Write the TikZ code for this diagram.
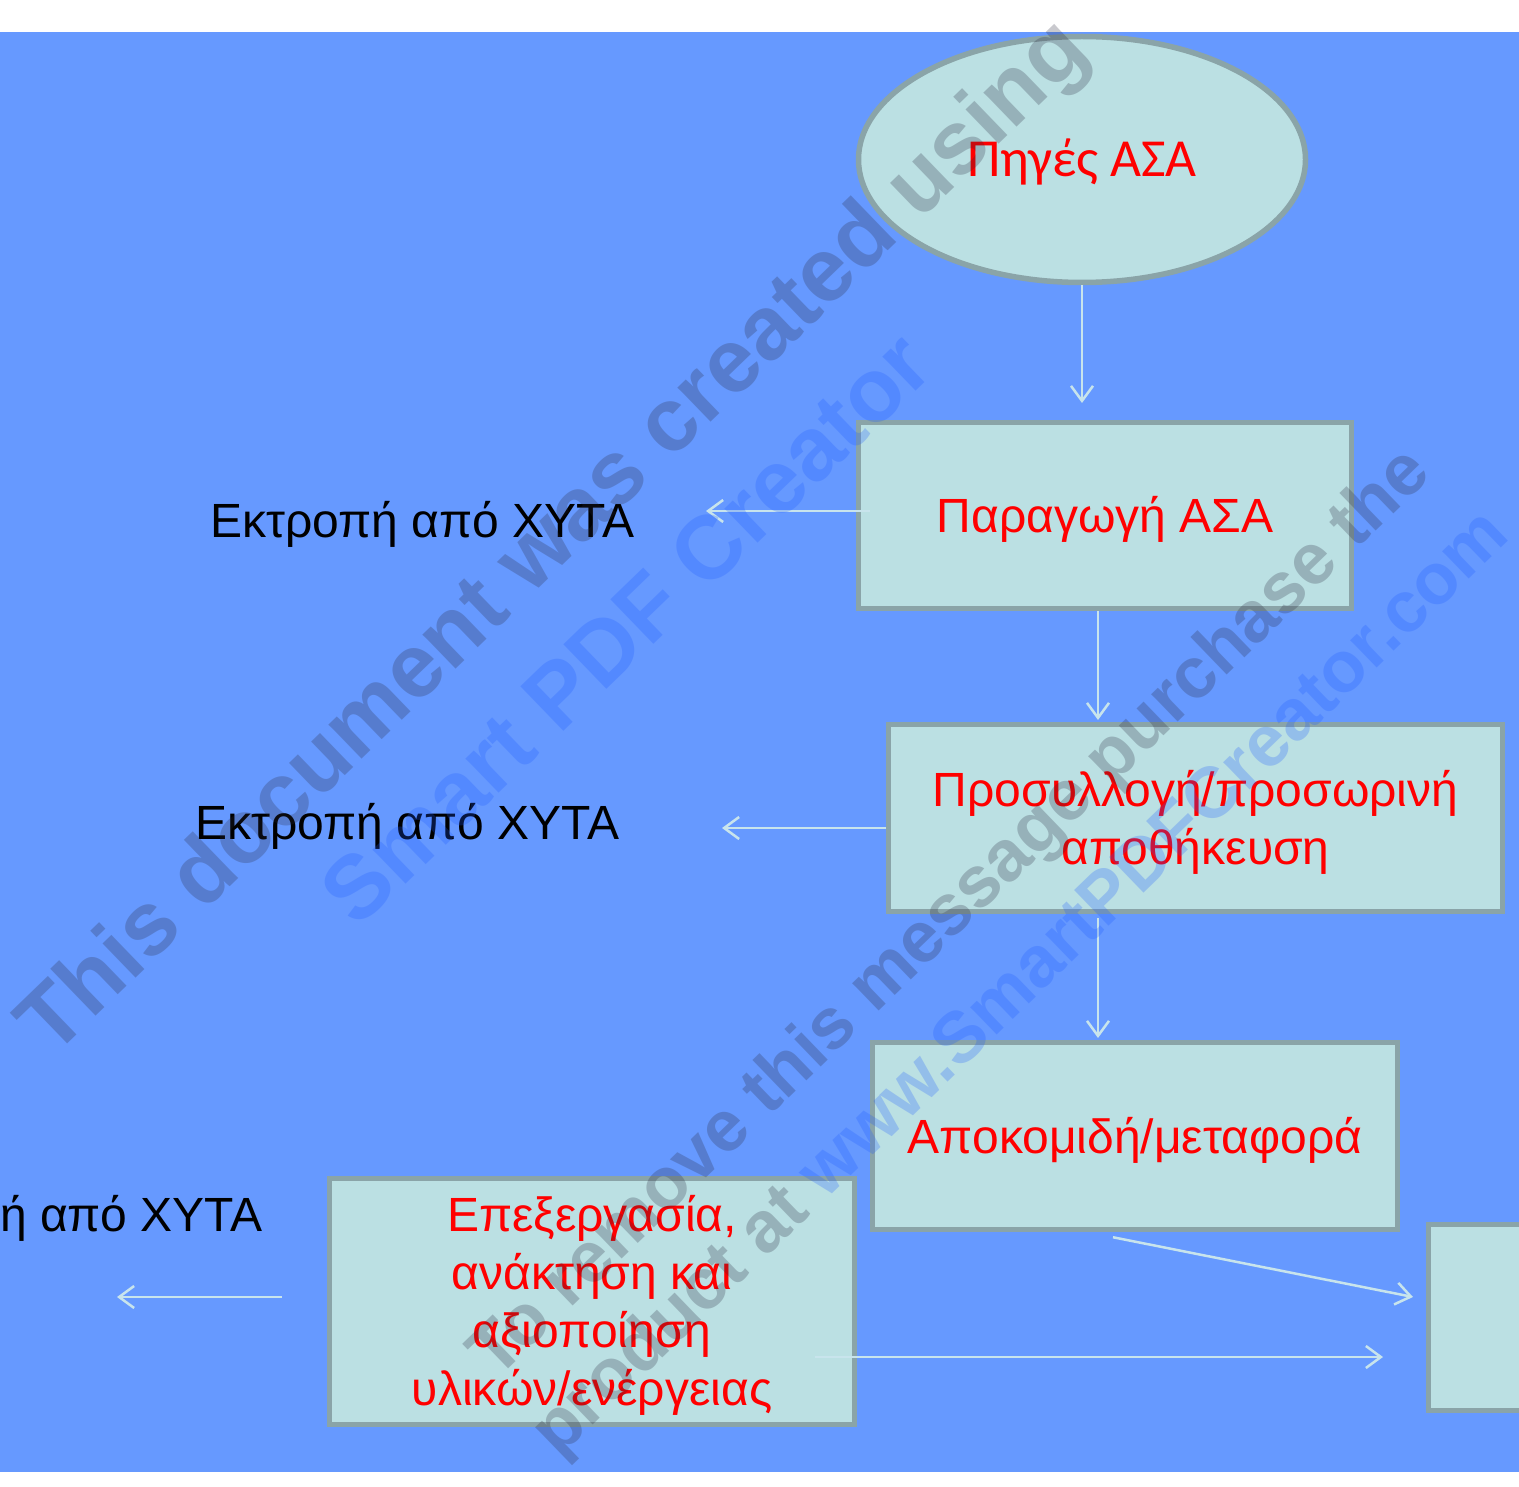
\documentclass[tikz,border=0pt]{standalone}
\usepackage{fontspec}
\setmainfont{Liberation Sans}
\newfontfamily\calib{Carlito}
\usetikzlibrary{arrows.meta,shapes.geometric,calc}
\definecolor{bgblue}{RGB}{102,153,255}
\definecolor{boxfill}{RGB}{187,224,227}
\definecolor{boxline}{RGB}{138,164,168}
\definecolor{arrline}{RGB}{200,228,236}
\definecolor{wmgray}{RGB}{40,40,60}
\definecolor{wmblue}{RGB}{30,90,255}
\begin{document}
\begin{tikzpicture}[x=1pt,y=-1pt,
  box/.style={draw=boxline, line width=5.5pt, fill=boxfill, rectangle, inner sep=0pt,
    text=red, font=\fontsize{48}{58}\selectfont, align=center, text depth=0pt},
  arr/.style={draw=arrline, line width=2.5pt, -{Straight Barb[length=15pt,width=22pt]}},
  lbl/.style={font=\fontsize{48}{58}\selectfont, text=black, inner sep=0pt},
  wmbig/.style={font=\fontsize{90}{100}\selectfont\bfseries, rotate=44, inner sep=0pt, text opacity=0.25},
  wmsmall/.style={font=\fontsize{72}{84}\selectfont\bfseries, rotate=44, inner sep=0pt, text opacity=0.25}
]
\useasboundingbox (0,0) rectangle (1519,1487);
\clip (0,0) rectangle (1519,1487);
\fill[white] (0,0) rectangle (1519,1487);
\fill[bgblue] (0,32) rectangle (1519,1472);

% nodes
\node[draw=boxline, line width=5.5pt, fill=boxfill, ellipse, inner sep=0pt,
  minimum width=447pt, minimum height=246pt, text=red,
  font=\calib\fontsize{53.5}{60}\selectfont, text height=34.5pt, text depth=0pt]
  (src) at (1082,159.5) {Πηγές ΑΣΑ};
\node[box, minimum width=493pt, minimum height=186pt, text height=34.4pt]
  (b1) at (1105,515.5) {Παραγωγή ΑΣΑ};
\node[box, minimum width=614pt, minimum height=187pt, text height=92.4pt]
  (b2) at (1195.5,818) {Προσυλλογή/προσωρινή\\αποθήκευση};
\node[box, minimum width=525pt, minimum height=187pt, text height=34.4pt]
  (b3) at (1135,1136) {Αποκομιδή/μεταφορά};
\node[box, minimum width=525pt, minimum height=246pt, text height=208.4pt]
  (b4) at (592,1301.5) {Επεξεργασία,\\ανάκτηση και\\αξιοποίηση\\υλικών/ενέργειας};
\node[box, minimum width=525pt, minimum height=186pt]
  (b5) at (1691,1317.5) {};

\node[lbl, anchor=base] (l1) at (422.5,537) {Εκτροπή από ΧΥΤΑ};
\node[lbl, anchor=base] (l2) at (407.5,839) {Εκτροπή από ΧΥΤΑ};
\node[lbl, anchor=base east] (l3) at (263,1231) {Εκτροπή από ΧΥΤΑ};

% connector end points
\coordinate (c1) at (1082,403);
\coordinate (e1) at (706,511);
\coordinate (c2) at (1098,720);
\coordinate (e2) at (722,828);
\coordinate (c3) at (1098,1038);
\coordinate (c5) at (1413,1297);
\coordinate (c6) at (1383,1357);
\coordinate (e3) at (117,1297);

\draw[arr] (src.south) -- (c1);
\draw[arr] ($(b1.west |- e1)+(14,0)$) -- (e1);
\draw[arr] (b1.south -| c2) -- (c2);
\draw[arr] (b2.west |- e2) -- (e2);
\draw[arr] ($(b2.south -| c3)+(0,4)$) -- (c3);
\draw[arr] ($(b3.south)+(-22,5)$) -- (c5);
\draw[arr] ($(b4.east |- c6)+(-42,0)$) -- (c6);
\draw[arr] ($(b4.west |- e3)+(-45,0)$) -- (e3);

% watermark
\node[wmbig, text=wmgray] (w1) at (556,540) {This document was created using};
\node[wmbig, text=wmblue] (w2) at (626,628) {Smart PDF Creator};
\node[wmsmall, text=wmgray] (w3) at (952,915) {To remove this message purchase the};
\node[wmsmall, text=wmgray] (w4) at (1022,985) {product at \textcolor{wmblue}{www.SmartPDFCreator.com}};
\end{tikzpicture}
\end{document}
